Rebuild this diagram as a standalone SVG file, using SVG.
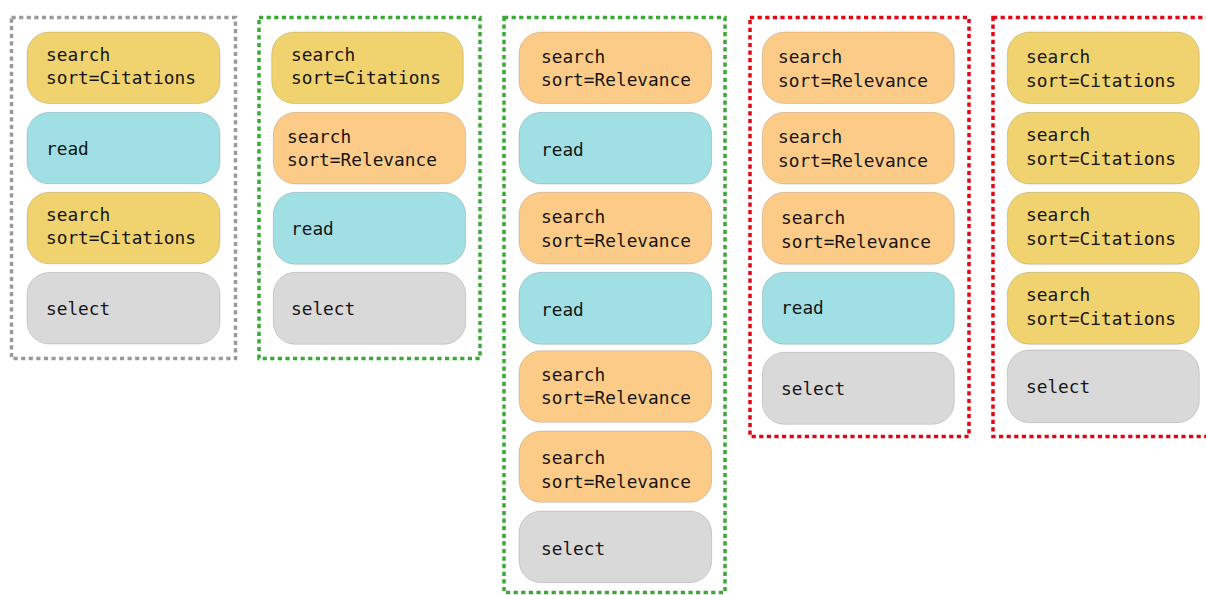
<svg xmlns="http://www.w3.org/2000/svg" width="1206" height="595" viewBox="0 0 1206 595">
  <style>
    .frame { fill: none; stroke-width: 3.5; stroke-dasharray: 4.2 3.4; }
    .f-grey { stroke: #9a9a9a; }
    .f-green { stroke: #3aa935; }
    .f-red { stroke: #e30613; }
    .node rect { stroke: #000; stroke-opacity: 0.14; stroke-width: 1; }
    .cit rect { fill: #f0d26e; }
    .rel rect { fill: #fccb88; }
    .read rect { fill: #a0dfe4; }
    .sel rect { fill: #d9d9d9; }
    text { font-family: "DejaVu Sans Mono", "Liberation Mono", monospace; font-size: 17.8px; fill: #151515; }
  </style>

  <!-- group frames -->
  <g id="frames">
    <rect id="frame1" class="frame f-grey" x="11.5" y="17.5" width="224" height="341"/>
    <rect id="frame2" class="frame f-green" x="259" y="17.5" width="221" height="341"/>
    <rect id="frame3" class="frame f-green" x="504" y="17.5" width="221" height="575"/>
    <rect id="frame4" class="frame f-red" x="750" y="17.5" width="219" height="419"/>
    <rect id="frame5" class="frame f-red" x="993" y="17.5" width="225" height="419"/>
  </g>

  <!-- no connectors between steps -->
  <g id="connectors"/>

  <!-- column 1 -->
  <g id="c1n1" class="node cit"><rect x="27" y="32" width="193" height="71.5" rx="22"/><text x="46" y="61">search</text><text x="46" y="84">sort=Citations</text></g>
  <g id="c1n2" class="node read"><rect x="27" y="112.3" width="193" height="71.5" rx="22"/><text x="46" y="155">read</text></g>
  <g id="c1n3" class="node cit"><rect x="27" y="192.3" width="193" height="71.5" rx="22"/><text x="46" y="221">search</text><text x="46" y="244">sort=Citations</text></g>
  <g id="c1n4" class="node sel"><rect x="27" y="272.5" width="193" height="71.5" rx="22"/><text x="46" y="315">select</text></g>

  <!-- column 2 -->
  <g id="c2n1" class="node cit"><rect x="271.7" y="32" width="191.6" height="71.5" rx="22"/><text x="291" y="61">search</text><text x="291" y="84">sort=Citations</text></g>
  <g id="c2n2" class="node rel"><rect x="273.3" y="112.3" width="192.4" height="71.7" rx="22"/><text x="287" y="142.5">search</text><text x="287" y="166">sort=Relevance</text></g>
  <g id="c2n3" class="node read"><rect x="273.3" y="192.3" width="192.4" height="72" rx="22"/><text x="291" y="235">read</text></g>
  <g id="c2n4" class="node sel"><rect x="273.3" y="272.3" width="192.4" height="72" rx="22"/><text x="291" y="315">select</text></g>

  <!-- column 3 -->
  <g id="c3n1" class="node rel"><rect x="519" y="32" width="192.7" height="71.5" rx="22"/><text x="541" y="62.5">search</text><text x="541" y="86">sort=Relevance</text></g>
  <g id="c3n2" class="node read"><rect x="519" y="112.3" width="192.7" height="71.7" rx="22"/><text x="541" y="156">read</text></g>
  <g id="c3n3" class="node rel"><rect x="519" y="192.3" width="192.7" height="71.7" rx="22"/><text x="541" y="223">search</text><text x="541" y="246.5">sort=Relevance</text></g>
  <g id="c3n4" class="node read"><rect x="519" y="272.3" width="192.7" height="72" rx="22"/><text x="541" y="315.5">read</text></g>
  <g id="c3n5" class="node rel"><rect x="519" y="350.7" width="192.7" height="71.6" rx="22"/><text x="541" y="380.5">search</text><text x="541" y="404">sort=Relevance</text></g>
  <g id="c3n6" class="node rel"><rect x="519" y="431" width="192.7" height="71.3" rx="22"/><text x="541" y="464">search</text><text x="541" y="487.5">sort=Relevance</text></g>
  <g id="c3n7" class="node sel"><rect x="519" y="511" width="192.7" height="71.7" rx="22"/><text x="541" y="555">select</text></g>

  <!-- column 4 -->
  <g id="c4n1" class="node rel"><rect x="762.3" y="32" width="192" height="71.5" rx="22"/><text x="778" y="63">search</text><text x="778" y="86.5">sort=Relevance</text></g>
  <g id="c4n2" class="node rel"><rect x="762.3" y="112.3" width="192" height="71.7" rx="22"/><text x="778" y="143">search</text><text x="778" y="166.5">sort=Relevance</text></g>
  <g id="c4n3" class="node rel"><rect x="762.3" y="192.3" width="192" height="72" rx="22"/><text x="781" y="224">search</text><text x="781" y="248">sort=Relevance</text></g>
  <g id="c4n4" class="node read"><rect x="762.3" y="272.3" width="192" height="72" rx="22"/><text x="781" y="313.5">read</text></g>
  <g id="c4n5" class="node sel"><rect x="762.3" y="352.3" width="192" height="72" rx="22"/><text x="781" y="394.5">select</text></g>

  <!-- column 5 -->
  <g id="c5n1" class="node cit"><rect x="1007.3" y="32" width="192" height="71.5" rx="22"/><text x="1026" y="63">search</text><text x="1026" y="86.5">sort=Citations</text></g>
  <g id="c5n2" class="node cit"><rect x="1007.3" y="112.3" width="192" height="71.7" rx="22"/><text x="1026" y="141">search</text><text x="1026" y="164.5">sort=Citations</text></g>
  <g id="c5n3" class="node cit"><rect x="1007.3" y="192.3" width="192" height="72" rx="22"/><text x="1026" y="221">search</text><text x="1026" y="244.5">sort=Citations</text></g>
  <g id="c5n4" class="node cit"><rect x="1007.3" y="272.3" width="192" height="72" rx="22"/><text x="1026" y="301">search</text><text x="1026" y="324.5">sort=Citations</text></g>
  <g id="c5n5" class="node sel"><rect x="1007.3" y="350" width="192" height="72.7" rx="22"/><text x="1026" y="392.5">select</text></g>
</svg>
